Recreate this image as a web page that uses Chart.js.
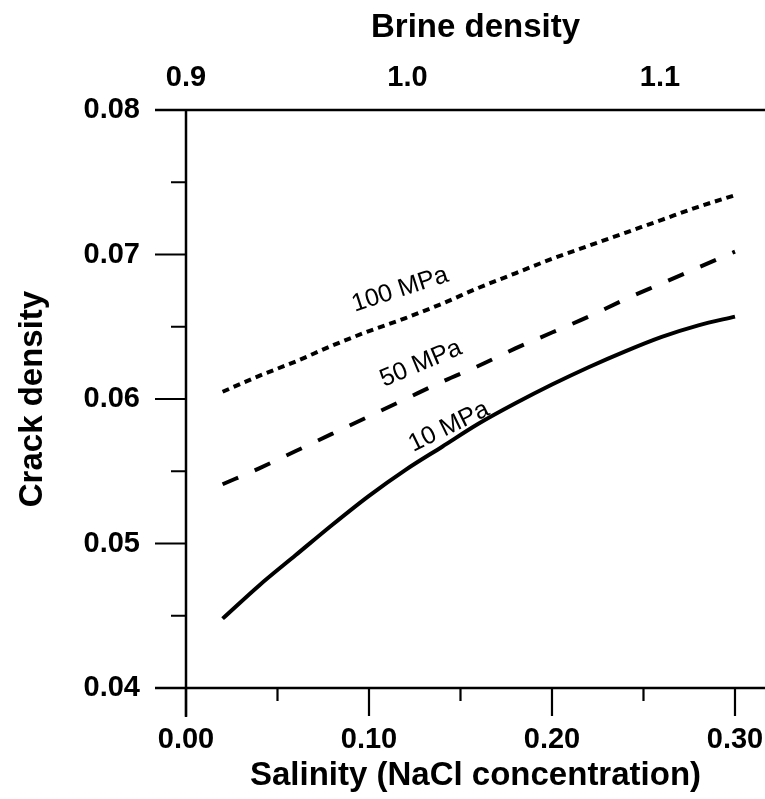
<!DOCTYPE html>
<html>
<head>
<meta charset="utf-8">
<script src="https://cdn.jsdelivr.net/npm/chart.js@4.4.0/dist/chart.umd.min.js"></script>
<style>
html,body{margin:0;padding:0;background:#fff;}
#wrap{width:765px;height:799px;}
</style>
</head>
<body>
<div id="wrap"><canvas id="c" width="765" height="799"></canvas></div>
<script>
// ---- data ----
const salinity     = [0.02, 0.04, 0.06, 0.08, 0.10, 0.12, 0.14, 0.16, 0.18, 0.20, 0.22, 0.24, 0.26, 0.28, 0.30];
const crack10MPa   = [0.0448, 0.0471, 0.0492, 0.0513, 0.0533, 0.0551, 0.0567, 0.0583, 0.0597, 0.0610, 0.0622, 0.0633, 0.0643, 0.0651, 0.0657];
const crack50MPa   = [0.0541, 0.0552, 0.0564, 0.0576, 0.0588, 0.0600, 0.0612, 0.0623, 0.0635, 0.0646, 0.0657, 0.0669, 0.0680, 0.0691, 0.0702];
const crack100MPa  = [0.0605, 0.0616, 0.0626, 0.0637, 0.0647, 0.0656, 0.0666, 0.0677, 0.0687, 0.0697, 0.0706, 0.0715, 0.0724, 0.0733, 0.0741];
const seriesNames  = ['10 MPa', '50 MPa', '100 MPa'];

const xTickValues  = [0, 0.05, 0.10, 0.15, 0.20, 0.25, 0.30];
const xTickLabels  = ['0.00', '', '0.10', '', '0.20', '', '0.30'];
const yTickValues  = [0.04, 0.045, 0.05, 0.055, 0.06, 0.065, 0.07, 0.075, 0.08];
const yTickLabels  = ['0.04', '', '0.05', '', '0.06', '', '0.07', '', '0.08'];
const densityTickSalinity = [0, 0.121, 0.259];
const densityTickLabels   = ['0.9', '1.0', '1.1'];

// ---- styling / layout ----
const FONT = "'Liberation Sans', Arial, Helvetica, sans-serif";
Chart.defaults.font.family = FONT;
Chart.defaults.color = '#000';

const X_MAX = 0.3164;

const toPoints = ys => salinity.map((x, i) => ({x: x, y: ys[i]}));

const curveLabelPlacement = [
  {series: 0, x: 0.1437, y: 0.05807, angle: -26},
  {series: 1, x: 0.1284, y: 0.06244, angle: -23},
  {series: 2, x: 0.1170, y: 0.06756, angle: -18}
];

const axesPlugin = {
  id: 'axesPlugin',
  afterDraw(chart) {
    const ctx = chart.ctx;
    const xs = chart.scales.x, ys = chart.scales.y;
    const a = chart.chartArea;
    ctx.save();
    ctx.strokeStyle = '#000';
    ctx.lineCap = 'butt';
    ctx.lineWidth = 2.5;
    ctx.beginPath();
    ctx.moveTo(a.left - 31, a.top); ctx.lineTo(a.right, a.top);
    ctx.moveTo(a.left - 31, a.bottom); ctx.lineTo(a.right, a.bottom);
    ctx.moveTo(a.left, a.top); ctx.lineTo(a.left, a.bottom + 29);
    ctx.stroke();
    ctx.lineWidth = 2.2;
    ctx.beginPath();
    yTickValues.forEach((v, i) => {
      const py = ys.getPixelForValue(v);
      const len = yTickLabels[i] ? 31 : 15;
      ctx.moveTo(a.left - len, py); ctx.lineTo(a.left, py);
    });
    xTickValues.forEach((v, i) => {
      const px = xs.getPixelForValue(v);
      const len = xTickLabels[i] ? 28 : 13;
      ctx.moveTo(px, a.bottom); ctx.lineTo(px, a.bottom + len);
    });
    ctx.stroke();
    ctx.restore();
  }
};

const curveLabelPlugin = {
  id: 'curveLabelPlugin',
  afterDatasetsDraw(chart) {
    const ctx = chart.ctx;
    const xs = chart.scales.x, ys = chart.scales.y;
    ctx.save();
    ctx.fillStyle = '#000';
    ctx.font = "25px " + FONT;
    ctx.textAlign = 'center';
    ctx.textBaseline = 'middle';
    curveLabelPlacement.forEach(p => {
      const px = xs.getPixelForValue(p.x);
      const py = ys.getPixelForValue(p.y);
      ctx.save();
      ctx.translate(px, py);
      ctx.rotate(p.angle * Math.PI / 180);
      ctx.fillText(seriesNames[p.series], 0, 0);
      ctx.restore();
    });
    ctx.restore();
  }
};

const lineStyle = {borderColor: '#000', borderWidth: 4, pointRadius: 0, fill: false,
                   cubicInterpolationMode: 'monotone', borderCapStyle: 'butt'};

const hiddenGrid = len => ({display: true, drawOnChartArea: false, drawTicks: true,
                            tickLength: len, tickColor: 'rgba(0,0,0,0)', color: 'rgba(0,0,0,0)'});

new Chart(document.getElementById('c'), {
  type: 'line',
  data: {
    datasets: [
      Object.assign({label: seriesNames[0], data: toPoints(crack10MPa)}, lineStyle),
      Object.assign({label: seriesNames[1], data: toPoints(crack50MPa), borderDash: [17, 18]}, lineStyle),
      Object.assign({label: seriesNames[2], data: toPoints(crack100MPa), borderDash: [7, 5]}, lineStyle)
    ]
  },
  options: {
    responsive: false,
    animation: false,
    devicePixelRatio: 1,
    layout: {padding: 0},
    plugins: {legend: {display: false}, tooltip: {enabled: false}},
    scales: {
      x: {
        type: 'linear', position: 'bottom', min: 0, max: X_MAX,
        afterBuildTicks: s => { s.ticks = xTickValues.map(v => ({value: v})); },
        afterFit: s => { s.height = 111; },
        ticks: {autoSkip: false, maxRotation: 0, padding: 0, color: '#000',
                font: {size: 29, weight: 'bold'},
                callback: (v, i) => xTickLabels[i]},
        grid: hiddenGrid(35),
        border: {display: false},
        title: {display: true, text: 'Salinity (NaCl concentration)', color: '#000',
                font: {size: 33, weight: 'bold'}, padding: {top: 0, bottom: 3}}
      },
      x2: {
        type: 'linear', position: 'top', min: 0, max: X_MAX,
        afterBuildTicks: s => { s.ticks = densityTickSalinity.map(v => ({value: v})); },
        afterFit: s => { s.height = 110; },
        ticks: {autoSkip: false, maxRotation: 0, padding: 0, color: '#000',
                font: {size: 29, weight: 'bold'},
                callback: (v, i) => densityTickLabels[i]},
        grid: hiddenGrid(15),
        border: {display: false},
        title: {display: true, text: 'Brine density', color: '#000',
                font: {size: 33, weight: 'bold'}, padding: {top: 8, bottom: 0}}
      },
      y: {
        type: 'linear', position: 'left', min: 0.04, max: 0.08,
        afterBuildTicks: s => { s.ticks = yTickValues.map(v => ({value: v})); },
        afterFit: s => { s.width = 186; },
        ticks: {autoSkip: false, padding: 0, color: '#000',
                font: {size: 29, weight: 'bold'},
                callback: (v, i) => yTickLabels[i]},
        grid: hiddenGrid(46),
        border: {display: false},
        title: {display: true, text: 'Crack density', color: '#000',
                font: {size: 33, weight: 'bold'}, padding: {top: 13, bottom: 0}}
      }
    }
  },
  plugins: [axesPlugin, curveLabelPlugin]
});
</script>
</body>
</html>
